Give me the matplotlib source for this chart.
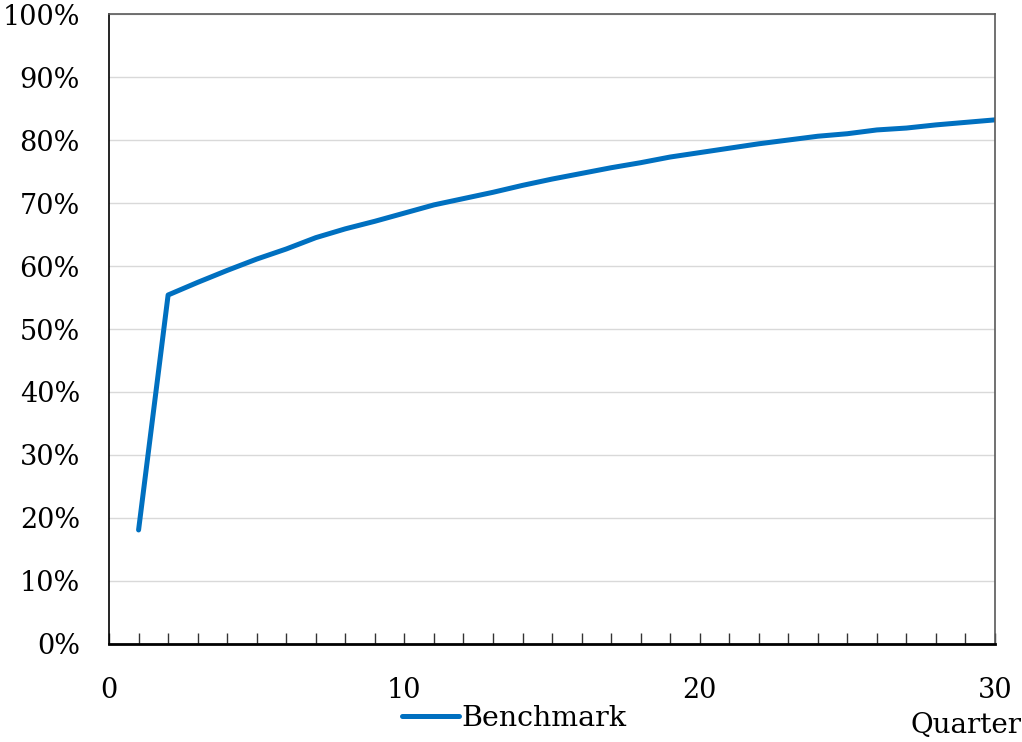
import matplotlib
matplotlib.use("Agg")
import matplotlib.pyplot as plt
from matplotlib.ticker import MultipleLocator, FuncFormatter

quarters = list(range(1, 31))
benchmark = [18.1, 55.4, 57.4, 59.3, 61.1, 62.7, 64.5, 65.9, 67.1, 68.4,
             69.7, 70.7, 71.7, 72.8, 73.8, 74.7, 75.6, 76.4, 77.3, 78.0,
             78.7, 79.4, 80.0, 80.6, 81.0, 81.6, 81.9, 82.4, 82.8, 83.2]
y_ticks = list(range(0, 101, 10))
x_ticks = [0, 10, 20, 30]

plt.rcParams['font.family'] = ['DejaVu Serif']
fig = plt.figure(figsize=(10.22, 7.42), dpi=100)
ax = fig.add_axes([0.1067, 0.1321, 0.9736 - 0.1067, 0.9811 - 0.1321])

ax.plot(quarters, benchmark, color='#0070C0', lw=3.6, solid_capstyle='round',
        solid_joinstyle='round', label='Benchmark')

ax.set_xlim(0, 30)
ax.set_ylim(0, 100)
ax.set_yticks(y_ticks)
ax.yaxis.set_major_formatter(FuncFormatter(lambda v, p: f"{int(v)}%"))
ax.set_xticks(x_ticks)
ax.xaxis.set_minor_locator(MultipleLocator(1))
ax.grid(axis='y', color='#D9D9D9', lw=1.0)
ax.set_axisbelow(True)

ax.tick_params(axis='y', length=0, pad=21, labelsize=19.5)
ax.tick_params(axis='x', which='both', direction='in', length=8, width=1.0,
               pad=24, labelsize=19.5, color='#333333')

for s in ['top', 'right']:
    ax.spines[s].set_color('#595959')
    ax.spines[s].set_linewidth(1.2)
ax.spines['left'].set_color('#000000')
ax.spines['left'].set_linewidth(1.2)
ax.spines['bottom'].set_color('#000000')
ax.spines['bottom'].set_linewidth(2.0)

ax.text(1.03, -0.13, 'Quarter', transform=ax.transAxes, ha='right', va='center',
        fontsize=20)

fig.legend(loc='center', bbox_to_anchor=(0.503, 0.032), frameon=False,
           fontsize=20.5, handlelength=2.0, handletextpad=0.1)

fig.savefig('out.png', dpi=100)
